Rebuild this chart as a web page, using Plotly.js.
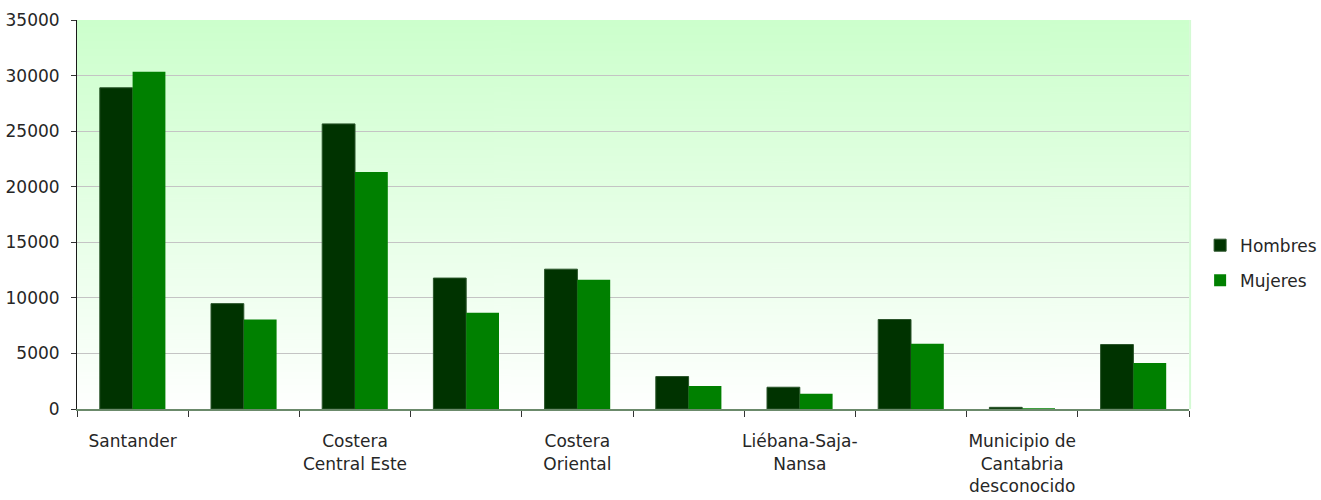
<!DOCTYPE html>
<html>
<head>
<meta charset="utf-8">
<script src="https://cdn.plot.ly/plotly-3.0.1.min.js"></script>
<style>html,body{margin:0;padding:0;background:#fff;}#chart{width:1321px;height:500px;}</style>
</head>
<body>
<div id="chart"></div>
<script>
// Data
const categories = [
  "Santander",
  "Costera Central Oeste",
  "Costera Central Este",
  "Besaya",
  "Costera Oriental",
  "Pas-Pisueña-Miera",
  "Liébana-Saja-Nansa",
  "Campoo-Los Valles",
  "Municipio de Cantabria desconocido",
  "Fuera de Cantabria"
];
const tickLabels = [
  "Santander", "", "Costera<br>Central Este", "", "Costera<br>Oriental", "",
  "Liébana-Saja-<br>Nansa", "", "Municipio de<br>Cantabria<br>desconocido", ""
];
const hombres = [28900, 9480, 25650, 11780, 12580, 2920, 1960, 8050, 150, 5800];
const mujeres = [30350, 8050, 21330, 8650, 11620, 2080, 1380, 5860, 60, 4150];

// Gradient background image
function gradientURL() {
  const c = document.createElement('canvas');
  c.width = 4; c.height = 400;
  const g = c.getContext('2d');
  const gr = g.createLinearGradient(0, 0, 0, 400);
  gr.addColorStop(0, '#ccffcc');
  gr.addColorStop(1, '#ffffff');
  g.fillStyle = gr;
  g.fillRect(0, 0, 4, 400);
  return c.toDataURL();
}

const FONT = '"DejaVu Sans", sans-serif';

const traces = [
  {
    type: 'bar', name: 'Hombres', x: categories, y: hombres, legendgroup: 'h',
    marker: {color: '#003300', line: {color: '#2a552a', width: 1}}
  },
  {
    type: 'bar', name: 'Mujeres', x: categories, y: mujeres, legendgroup: 'm',
    marker: {color: '#008000', line: {width: 0}}
  }
];

const layout = {
  width: 1321, height: 500,
  margin: {l: 77, r: 132, t: 20, b: 91, autoexpand: false},
  paper_bgcolor: '#ffffff',
  plot_bgcolor: 'rgba(0,0,0,0)',
  font: {family: FONT, size: 17, color: '#262626'},
  bargap: 0.41,
  bargroupgap: 0,
  showlegend: true,
  legend: {
    x: 1.010, xanchor: 'left', y: 0.375, yanchor: 'middle',
    traceorder: 'grouped', tracegroupgap: 10,
    font: {family: FONT, size: 17, color: '#262626'},
    bgcolor: 'rgba(0,0,0,0)', itemwidth: 30
  },
  images: [{
    source: gradientURL(), xref: 'paper', yref: 'paper',
    x: 0, y: 1, sizex: 1, sizey: 1, sizing: 'stretch',
    xanchor: 'left', yanchor: 'top', layer: 'below'
  }],
  shapes: [{
    type: 'line', xref: 'paper', yref: 'paper', x0: 1.001, x1: 1.001, y0: 0, y1: 1,
    line: {color: '#d4fad4', width: 2}
  }],
  xaxis: {
    type: 'category',
    tickmode: 'array', tickvals: categories, ticktext: tickLabels,
    tickson: 'boundaries',
    ticks: 'outside', ticklen: 6, tickcolor: '#333333', tickwidth: 1,
    showline: true, linecolor: '#6b8a6b', linewidth: 2,
    showgrid: false, zeroline: false,
    tickangle: 0, ticklabelstandoff: 16,
    tickfont: {family: FONT, size: 17, color: '#262626'},
    fixedrange: true
  },
  yaxis: {
    range: [0, 35000], dtick: 5000, tick0: 0,
    ticks: 'outside', ticklen: 5, tickcolor: '#333333',
    showline: true, linecolor: '#1a1a1a', linewidth: 1,
    showgrid: true, gridcolor: '#c4c4c4', gridwidth: 1,
    zeroline: false,
    tickformat: 'd', ticklabelstandoff: 8,
    tickfont: {family: FONT, size: 17, color: '#262626'},
    fixedrange: true
  }
};

Plotly.newPlot('chart', traces, layout, {displayModeBar: false, staticPlot: true});
</script>
</body>
</html>
